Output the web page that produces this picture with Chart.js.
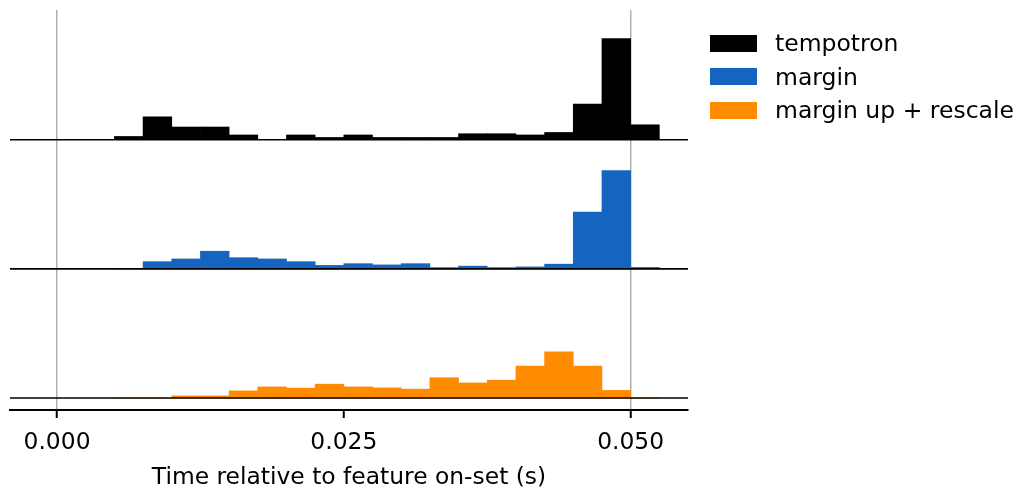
<!DOCTYPE html>
<html>
<head>
<meta charset="utf-8">
<script src="https://cdn.jsdelivr.net/npm/chart.js@4/dist/chart.umd.min.js"></script>
<style>
  html, body { margin: 0; padding: 0; background: #fff; }
  #wrap { position: relative; width: 1017px; height: 493px; }
  #chart { position: absolute; left: 0; top: 0; }
  .legend-row { position: absolute; left: 710px; height: 34px; display: flex; align-items: center;
    font-family: "DejaVu Sans", sans-serif; font-size: 23.5px; color: #000; white-space: nowrap; }
  .legend-row .swatch { width: 47px; height: 17px; margin-right: 18px; }
</style>
</head>
<body>
<div id="wrap">
  <canvas id="chart" width="1017" height="493"></canvas>
  <div id="legend"></div>
</div>
<script>
// Histogram bin centres (s), bin width 2.5 ms
const binCenters = [0.00625, 0.00875, 0.01125, 0.01375, 0.01625, 0.01875, 0.02125, 0.02375, 0.02625,
  0.02875, 0.03125, 0.03375, 0.03625, 0.03875, 0.04125, 0.04375, 0.04625, 0.04875, 0.05125];

// Fraction of output spikes falling in each bin
const tempotron = [0.013, 0.092, 0.051, 0.051, 0.019, 0, 0.019, 0.009, 0.019, 0.009,
  0.009, 0.009, 0.024, 0.024, 0.019, 0.029, 0.143, 0.407, 0.060];
const margin = [0, 0.029, 0.040, 0.071, 0.045, 0.040, 0.029, 0.014, 0.021, 0.016,
  0.021, 0.005, 0.011, 0.005, 0.008, 0.019, 0.229, 0.396, 0.006];
const marginUpRescale = [0, 0, 0.009, 0.009, 0.029, 0.045, 0.040, 0.056, 0.045, 0.041,
  0.036, 0.082, 0.061, 0.072, 0.129, 0.186, 0.129, 0.031, 0];

const seriesNames = ['tempotron', 'margin', 'margin up + rescale'];
const seriesColors = ['#000000', '#1565c0', '#ff8c00'];
// vertical offset of each histogram's baseline
const baselines = [1.04, 0.52, 0];

const xTicks = [0, 0.025, 0.05];
const xMin = -0.0041, xMax = 0.055;
const yMin = -0.048, yMax = 1.562;

const allSeries = [tempotron, margin, marginUpRescale];

const barSets = allSeries.map((vals, k) => ({
  type: 'bar',
  label: seriesNames[k],
  data: binCenters.map((x, i) => ({ x: x, y: [baselines[k], baselines[k] + vals[i]] })),
  backgroundColor: seriesColors[k],
  borderWidth: 0,
  barPercentage: 1,
  categoryPercentage: 1,
  grouped: false,
  order: 2
}));

const baseLineSets = baselines.map(b => ({
  type: 'line',
  label: '',
  data: [{ x: xMin, y: b }, { x: xMax, y: b }],
  borderColor: '#000',
  borderWidth: 1.6,
  pointRadius: 0,
  order: 1
}));

new Chart(document.getElementById('chart'), {
  type: 'bar',
  data: { datasets: [...barSets, ...baseLineSets] },
  options: {
    responsive: false,
    animation: false,
    devicePixelRatio: 1,
    layout: { padding: { left: 10, top: 10, right: 329, bottom: 0 } },
    plugins: { legend: { display: false }, tooltip: { enabled: false } },
    scales: {
      x: {
        type: 'linear',
        min: xMin,
        max: xMax,
        offset: false,
        afterBuildTicks: s => { s.ticks = xTicks.map(v => ({ value: v })); },
        afterFit: s => { s.height = 83; },
        ticks: {
          color: '#000',
          padding: 11,
          font: { family: 'DejaVu Sans', size: 23.4 },
          callback: v => Number(v).toFixed(3),
          maxRotation: 0
        },
        grid: {
          offset: false,
          color: c => (c.tick && c.tick.value === 0.025) ? 'rgba(0,0,0,0)' : '#b0b0b0',
          lineWidth: 1.5,
          tickColor: '#000',
          tickLength: 8,
          tickWidth: 2
        },
        border: { display: true, color: '#000', width: 2 },
        title: {
          display: true,
          text: 'Time relative to feature on-set (s)',
          color: '#000',
          font: { family: 'DejaVu Sans', size: 23.4 },
          padding: { top: 0, bottom: 1 }
        }
      },
      y: {
        type: 'linear',
        display: false,
        min: yMin,
        max: yMax
      }
    }
  }
});

// legend
const legend = document.getElementById('legend');
seriesNames.forEach((name, k) => {
  const row = document.createElement('div');
  row.className = 'legend-row';
  row.style.top = (26 + 33.5 * k) + 'px';
  const sw = document.createElement('div');
  sw.className = 'swatch';
  sw.style.background = seriesColors[k];
  const tx = document.createElement('span');
  tx.textContent = name;
  row.appendChild(sw);
  row.appendChild(tx);
  legend.appendChild(row);
});
</script>
</body>
</html>
